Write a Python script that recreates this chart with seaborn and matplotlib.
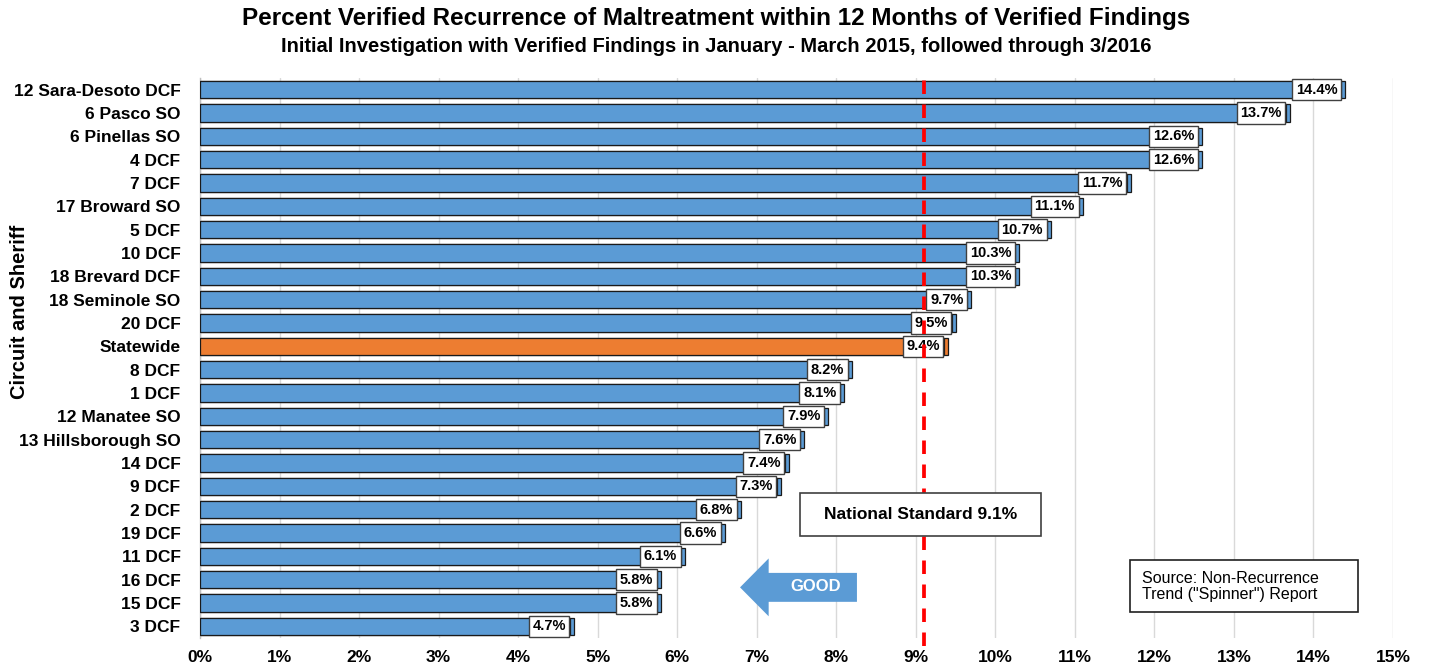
import matplotlib
matplotlib.use("Agg")
import matplotlib.pyplot as plt
from matplotlib.patches import FancyArrow, Rectangle
import seaborn as sns
import pandas as pd

categories = ["12 Sara-Desoto DCF", "6 Pasco SO", "6 Pinellas SO", "4 DCF", "7 DCF",
              "17 Broward SO", "5 DCF", "10 DCF", "18 Brevard DCF", "18 Seminole SO",
              "20 DCF", "Statewide", "8 DCF", "1 DCF", "12 Manatee SO",
              "13 Hillsborough SO", "14 DCF", "9 DCF", "2 DCF", "19 DCF",
              "11 DCF", "16 DCF", "15 DCF", "3 DCF"]
values = [14.4, 13.7, 12.6, 12.6, 11.7, 11.1, 10.7, 10.3, 10.3, 9.7,
          9.5, 9.4, 8.2, 8.1, 7.9, 7.6, 7.4, 7.3, 6.8, 6.6,
          6.1, 5.8, 5.8, 4.7]
national_standard = 9.1
x_ticks = list(range(0, 16))
x_ticklabels = [f"{t}%" for t in x_ticks]

title = "Percent Verified Recurrence of Maltreatment within 12 Months of Verified Findings"
subtitle = "Initial Investigation with Verified Findings in January - March 2015, followed through 3/2016"
ylabel = "Circuit and Sheriff"
std_label = "National Standard 9.1%"
source_label = 'Source: Non-Recurrence\nTrend ("Spinner") Report'

sns.set_theme(style="white")
plt.rcParams["font.family"] = ["Liberation Sans", "DejaVu Sans"]
plt.rcParams["text.color"] = "black"
plt.rcParams["axes.labelcolor"] = "black"
plt.rcParams["xtick.color"] = "black"
plt.rcParams["ytick.color"] = "black"

BLUE = "#5B9BD5"
ORANGE = "#ED7D31"
colors = {c: (ORANGE if c == "Statewide" else BLUE) for c in categories}

df = pd.DataFrame({"cat": categories, "val": values})
df["front"] = df["val"] - 0.05

fig = plt.figure(figsize=(14.3, 6.67), dpi=100)
ax = fig.add_axes([200 / 1430, 1 - 638 / 667, (1393 - 200) / 1430, (638 - 78) / 667])

# side face (3D look) then front face
for col in ["val", "front"]:
    sns.barplot(data=df, y="cat", x=col, hue="cat", palette=colors, order=categories,
                hue_order=categories, legend=False, width=0.73, edgecolor="#1a1a1a",
                linewidth=0.9, saturation=1, ax=ax, zorder=3)

for i, v in enumerate(values):
    ax.text(v - 0.1, i, f"{v:.1f}%", ha="right", va="center", fontsize=10.5,
            fontweight="bold", color="black", zorder=6,
            bbox=dict(boxstyle="square,pad=0.25", fc="white", ec="#404040", lw=1))

ax.set_xlim(0, 15)
ax.set_ylim(len(categories) - 0.5, -0.5)
ax.set_xticks(x_ticks)
ax.set_xticklabels(x_ticklabels, fontsize=12.5, fontweight="bold")
ax.set_yticks(range(len(categories)))
ax.set_yticklabels(categories, fontsize=12.5, fontweight="bold")
ax.tick_params(axis="both", length=0)
ax.tick_params(axis="y", pad=14)
ax.tick_params(axis="x", pad=9)
ax.set_xlabel("")
ax.set_ylabel(ylabel, fontsize=14.5, fontweight="bold")
ax.yaxis.set_label_coords(-0.143, 0.582)

ax.grid(axis="x", color="#D9D9D9", lw=1, zorder=0)
ax.grid(axis="y", visible=False)
for s in ["top", "right", "bottom"]:
    ax.spines[s].set_visible(False)
ax.spines["left"].set_color("#BFBFBF")
ax.spines["left"].set_linewidth(1)

# national standard line (drawn above bars and labels)
ax.axvline(national_standard, ymin=-0.015, ymax=1, color="#FF0000", lw=2.7,
           dashes=(3.6, 2.8), zorder=6.5, clip_on=False)

# national standard box
ax.add_patch(Rectangle((7.54, 17.3), 3.04, 1.84, fc="white", ec="#404040", lw=1.2, zorder=7))
ax.text(9.06, 18.22, std_label, ha="center", va="center", fontsize=12.5,
        fontweight="bold", color="black", zorder=8)

# GOOD arrow
ax.add_patch(FancyArrow(8.26, 21.33, -1.47, 0, width=1.24, head_width=2.48,
                        head_length=0.36, length_includes_head=True,
                        fc=BLUE, ec="none", zorder=5))
ax.text(7.74, 21.28, "GOOD", ha="center", va="center", fontsize=12,
        fontweight="bold", color="white", zorder=6)

# source box
ax.add_patch(Rectangle((11.69, 20.17), 2.87, 2.23, fc="white", ec="#202020", lw=1.2, zorder=7))
ax.text(11.84, 21.28, source_label, ha="left", va="center", fontsize=11.5,
        color="black", zorder=8, linespacing=1.1)

fig.text(716 / 1430, 1 - 19 / 667, title, ha="center", va="center", fontsize=17.5,
         fontweight="bold", color="black")
fig.text(716 / 1430, 1 - 47 / 667, subtitle, ha="center", va="center", fontsize=14.5,
         fontweight="bold", color="black")

fig.savefig("out.png", dpi=100)
